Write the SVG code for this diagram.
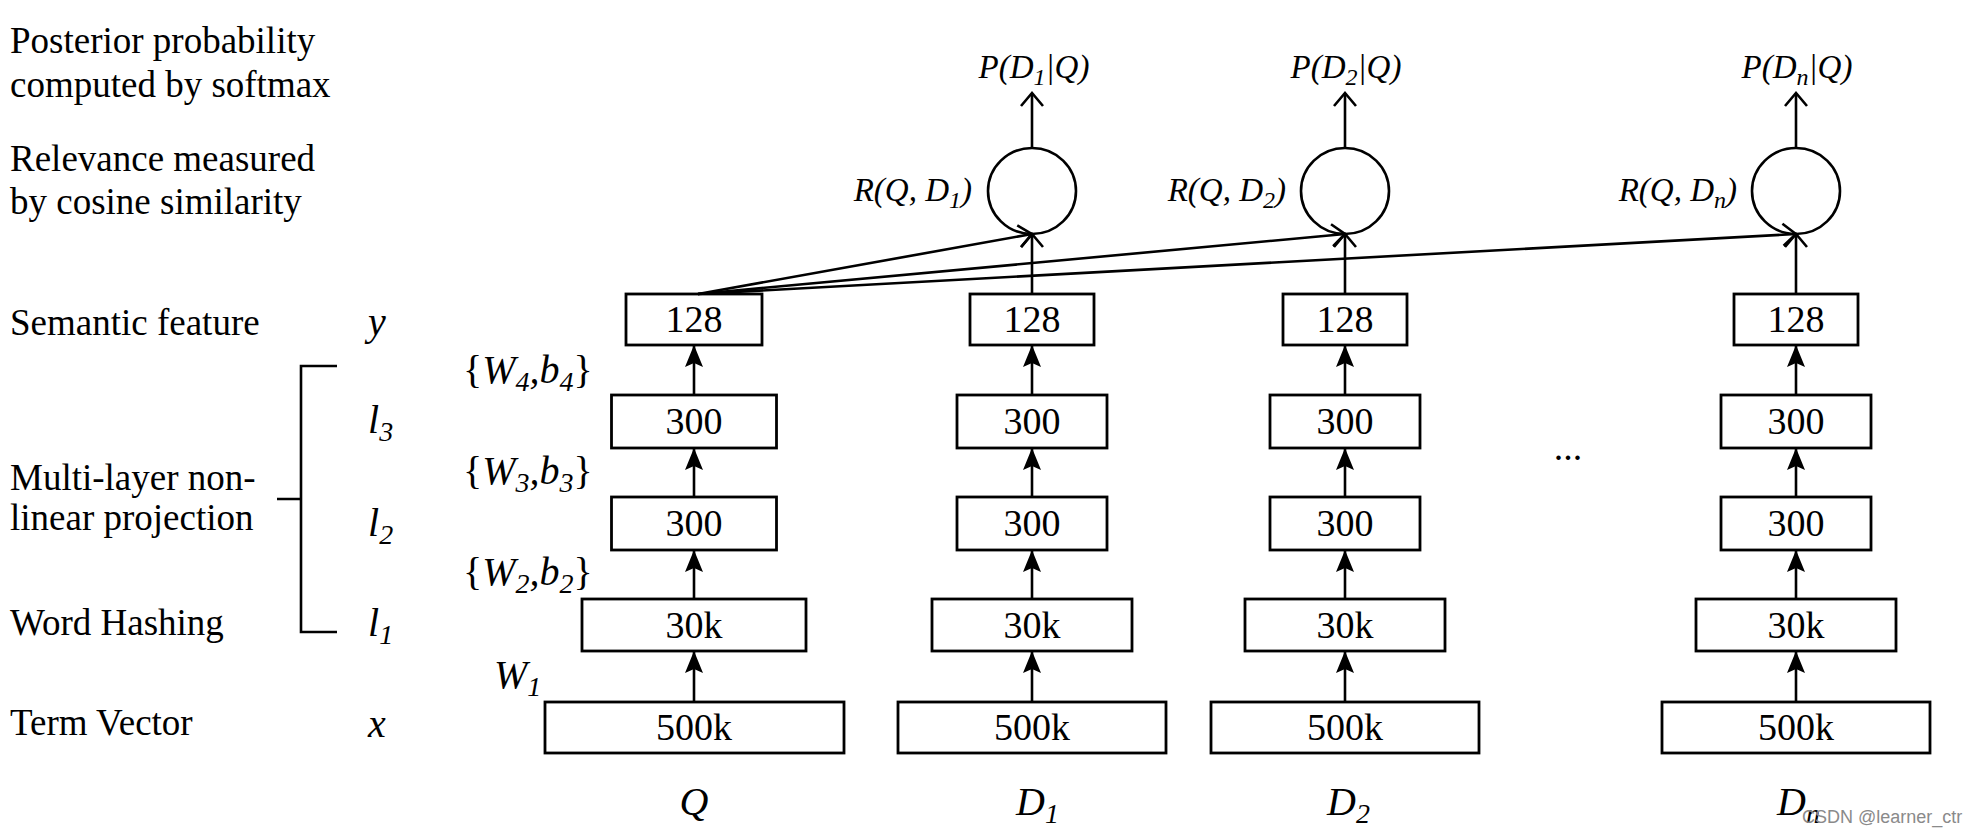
<svg xmlns="http://www.w3.org/2000/svg" width="1980" height="836" viewBox="0 0 1980 836">
<defs>
<style>
text{font-family:"Liberation Serif","Times New Roman",serif;fill:#000}
.lab{font-size:37px}
.sym{font-size:40px;font-style:italic}
.rl{font-size:33px;font-style:italic;text-anchor:end}
.pl{font-size:33px;font-style:italic;text-anchor:middle}
.bx{fill:#fff;stroke:#000;stroke-width:2.8}
.bt{font-size:38px;text-anchor:middle}
.ln{stroke:#000;stroke-width:2.6;fill:none}
.cir{fill:#fff;stroke:#000;stroke-width:2.6}
.wm{font-family:"Liberation Sans",Arial,sans-serif;font-size:18px;fill:#8a8a8a}
</style>
<marker id="fa" viewBox="0 0 22 18" refX="22" refY="9" markerWidth="22" markerHeight="18" markerUnits="userSpaceOnUse" orient="auto">
<path d="M0,0 L22,9 L0,18 L4,9 Z" fill="#000"/>
</marker>
<marker id="oa" viewBox="-2 -2 18 28" refX="13" refY="12" markerWidth="18" markerHeight="28" markerUnits="userSpaceOnUse" orient="auto">
<path d="M0,1 L13,12 L0,23" fill="none" stroke="#000" stroke-width="2.6"/>
</marker>
</defs>
<rect width="1980" height="836" fill="#fff"/>

<g id="left-labels">
<text class="lab" x="10" y="53">Posterior probability</text>
<text class="lab" x="10" y="97">computed by softmax</text>
<text class="lab" x="10" y="171">Relevance measured</text>
<text class="lab" x="10" y="214">by cosine similarity</text>
<text class="lab" x="10" y="335">Semantic feature</text>
<text class="lab" x="10" y="490">Multi-layer non-</text>
<text class="lab" x="10" y="530">linear projection</text>
<text class="lab" x="10" y="635">Word Hashing</text>
<text class="lab" x="10" y="735">Term Vector</text>
</g>

<g id="symbols">
<text class="sym" x="368" y="335">y</text>
<text class="sym" x="368" y="433">l<tspan font-size="28" dy="8">3</tspan></text>
<text class="sym" x="368" y="536">l<tspan font-size="28" dy="8">2</tspan></text>
<text class="sym" x="368" y="636">l<tspan font-size="28" dy="8">1</tspan></text>
<text class="sym" x="368" y="737">x</text>
</g>

<g id="bracket">
<path class="ln" d="M337,366 H301 V632 H337 M277,499 H301"/>
</g>

<g id="weights">
<text class="sym" x="463" y="383"><tspan font-style="normal">{</tspan>W<tspan font-size="28" dy="8">4</tspan><tspan dy="-8">,b</tspan><tspan font-size="28" dy="8">4</tspan><tspan dy="-8" font-style="normal">}</tspan></text>
<text class="sym" x="463" y="484"><tspan font-style="normal">{</tspan>W<tspan font-size="28" dy="8">3</tspan><tspan dy="-8">,b</tspan><tspan font-size="28" dy="8">3</tspan><tspan dy="-8" font-style="normal">}</tspan></text>
<text class="sym" x="463" y="585"><tspan font-style="normal">{</tspan>W<tspan font-size="28" dy="8">2</tspan><tspan dy="-8">,b</tspan><tspan font-size="28" dy="8">2</tspan><tspan dy="-8" font-style="normal">}</tspan></text>
<text class="sym" x="494" y="688">W<tspan font-size="28" dy="8">1</tspan></text>
</g>

<g id="col-Q">
<rect class="bx" x="626" y="294" width="136" height="51"/><text class="bt" x="694" y="332">128</text>
<rect class="bx" x="611.5" y="395" width="165" height="53"/><text class="bt" x="694" y="434">300</text>
<rect class="bx" x="611.5" y="497" width="165" height="53"/><text class="bt" x="694" y="536">300</text>
<rect class="bx" x="582" y="599" width="224" height="52"/><text class="bt" x="694" y="638">30k</text>
<rect class="bx" x="545" y="702" width="299" height="51"/><text class="bt" x="694" y="740">500k</text>
<text class="sym" x="694" y="815" text-anchor="middle">Q</text>
</g>

<g id="col-D1">
<rect class="bx" x="970" y="294" width="124" height="51"/><text class="bt" x="1032" y="332">128</text>
<rect class="bx" x="957" y="395" width="150" height="53"/><text class="bt" x="1032" y="434">300</text>
<rect class="bx" x="957" y="497" width="150" height="53"/><text class="bt" x="1032" y="536">300</text>
<rect class="bx" x="932" y="599" width="200" height="52"/><text class="bt" x="1032" y="638">30k</text>
<rect class="bx" x="898" y="702" width="268" height="51"/><text class="bt" x="1032" y="740">500k</text>
<text class="sym" x="1016" y="815">D<tspan font-size="28" dy="8">1</tspan></text>
<ellipse class="cir" cx="1032" cy="191" rx="44" ry="43"/>
<text class="rl" x="972" y="201">R(Q, D<tspan font-size="24" dy="7">1</tspan><tspan dy="-7">)</tspan></text>
<text class="pl" x="1034" y="78">P(D<tspan font-size="24" dy="7">1</tspan><tspan dy="-7">|Q)</tspan></text>
</g>

<g id="col-D2">
<rect class="bx" x="1283" y="294" width="124" height="51"/><text class="bt" x="1345" y="332">128</text>
<rect class="bx" x="1270" y="395" width="150" height="53"/><text class="bt" x="1345" y="434">300</text>
<rect class="bx" x="1270" y="497" width="150" height="53"/><text class="bt" x="1345" y="536">300</text>
<rect class="bx" x="1245" y="599" width="200" height="52"/><text class="bt" x="1345" y="638">30k</text>
<rect class="bx" x="1211" y="702" width="268" height="51"/><text class="bt" x="1345" y="740">500k</text>
<text class="sym" x="1327" y="815">D<tspan font-size="28" dy="8">2</tspan></text>
<ellipse class="cir" cx="1345" cy="191" rx="44" ry="43"/>
<text class="rl" x="1286" y="201">R(Q, D<tspan font-size="24" dy="7">2</tspan><tspan dy="-7">)</tspan></text>
<text class="pl" x="1346" y="78">P(D<tspan font-size="24" dy="7">2</tspan><tspan dy="-7">|Q)</tspan></text>
</g>

<g id="col-Dn">
<rect class="bx" x="1734" y="294" width="124" height="51"/><text class="bt" x="1796" y="332">128</text>
<rect class="bx" x="1721" y="395" width="150" height="53"/><text class="bt" x="1796" y="434">300</text>
<rect class="bx" x="1721" y="497" width="150" height="53"/><text class="bt" x="1796" y="536">300</text>
<rect class="bx" x="1696" y="599" width="200" height="52"/><text class="bt" x="1796" y="638">30k</text>
<rect class="bx" x="1662" y="702" width="268" height="51"/><text class="bt" x="1796" y="740">500k</text>
<text class="sym" x="1777" y="815">D<tspan font-size="28" dy="8">n</tspan></text>
<ellipse class="cir" cx="1796" cy="191" rx="44" ry="43"/>
<text class="rl" x="1737" y="201">R(Q, D<tspan font-size="24" dy="7">n</tspan><tspan dy="-7">)</tspan></text>
<text class="pl" x="1797" y="78">P(D<tspan font-size="24" dy="7">n</tspan><tspan dy="-7">|Q)</tspan></text>
</g>

<g id="ellipsis">
<text class="bt" x="1568" y="460">...</text>
</g>

<g id="connectors">
<path class="ln" marker-end="url(#fa)" d="M694,702 V651"/>
<path class="ln" marker-end="url(#fa)" d="M694,599 V550"/>
<path class="ln" marker-end="url(#fa)" d="M694,497 V448"/>
<path class="ln" marker-end="url(#fa)" d="M694,395 V345"/>
<path class="ln" marker-end="url(#fa)" d="M1032,702 V651"/>
<path class="ln" marker-end="url(#fa)" d="M1032,599 V550"/>
<path class="ln" marker-end="url(#fa)" d="M1032,497 V448"/>
<path class="ln" marker-end="url(#fa)" d="M1032,395 V345"/>
<path class="ln" marker-end="url(#fa)" d="M1345,702 V651"/>
<path class="ln" marker-end="url(#fa)" d="M1345,599 V550"/>
<path class="ln" marker-end="url(#fa)" d="M1345,497 V448"/>
<path class="ln" marker-end="url(#fa)" d="M1345,395 V345"/>
<path class="ln" marker-end="url(#fa)" d="M1796,702 V651"/>
<path class="ln" marker-end="url(#fa)" d="M1796,599 V550"/>
<path class="ln" marker-end="url(#fa)" d="M1796,497 V448"/>
<path class="ln" marker-end="url(#fa)" d="M1796,395 V345"/>
<path class="ln" marker-end="url(#oa)" d="M1032,294 V234"/>
<path class="ln" marker-end="url(#oa)" d="M1345,294 V234"/>
<path class="ln" marker-end="url(#oa)" d="M1796,294 V234"/>
<path class="ln" marker-end="url(#oa)" d="M1032,148 V93"/>
<path class="ln" marker-end="url(#oa)" d="M1345,148 V93"/>
<path class="ln" marker-end="url(#oa)" d="M1796,148 V93"/>
<path class="ln" marker-end="url(#oa)" d="M698,294 L1032,234"/>
<path class="ln" marker-end="url(#oa)" d="M698,294 L1345,234"/>
<path class="ln" marker-end="url(#oa)" d="M698,294 L1796,234"/>
</g>

<text class="wm" x="1802" y="823">CSDN @learner_ctr</text>
</svg>
